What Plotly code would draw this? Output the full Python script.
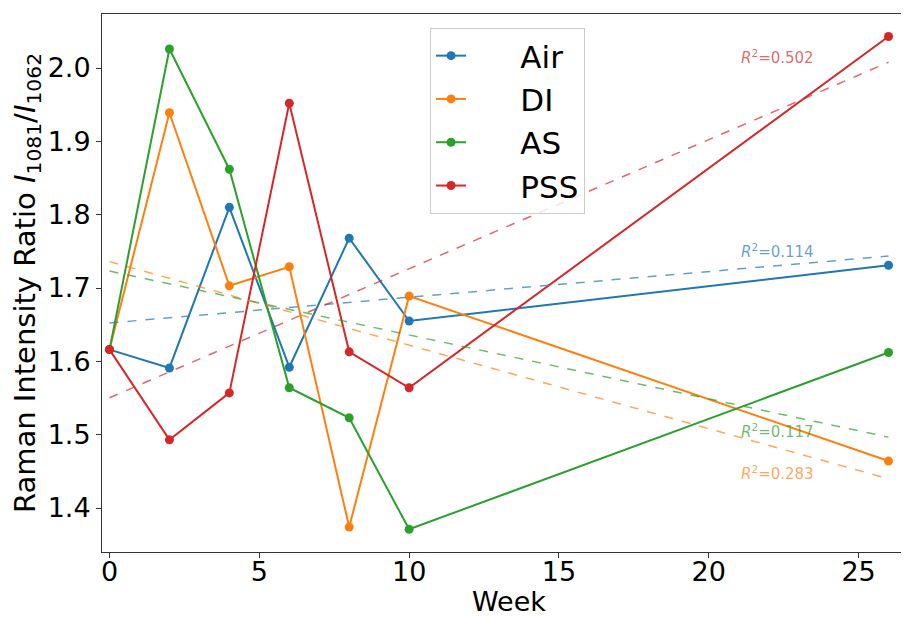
import numpy as np
import plotly.graph_objects as go

weeks = [0, 2, 4, 6, 8, 10, 26]
air = [1.616, 1.591, 1.810, 1.592, 1.768, 1.655, 1.731]
di = [1.616, 1.939, 1.703, 1.729, 1.374, 1.689, 1.464]
as_ = [1.616, 2.026, 1.862, 1.564, 1.523, 1.371, 1.612]
pss = [1.616, 1.493, 1.557, 1.952, 1.613, 1.564, 2.043]
names = ["Air", "DI", "AS", "PSS"]
r2_values = [0.114, 0.283, 0.117, 0.502]
label_y = [1.750, 1.4475, 1.505, 2.015]
label_x = 21
colors = ["#1f77b4", "#ff7f0e", "#2ca02c", "#d62728"]
fit_colors = ["rgba(31,119,180,0.7)", "rgba(255,127,14,0.7)", "rgba(44,160,44,0.7)", "rgba(214,39,40,0.7)"]

series = [air, di, as_, pss]
FONT = "DejaVu Sans"
NB = "\u00a0" * 5

fig = go.Figure()
for name, ys, c in zip(names, series, colors):
    fig.add_trace(go.Scatter(x=weeks, y=ys, mode="lines+markers", name=NB + name,
                             legendgroup=name,
                             line=dict(color=c, width=2), marker=dict(color=c, size=9)))

x = np.array(weeks, dtype=float)
for name, ys, fc, r2, ly in zip(names, series, fit_colors, r2_values, label_y):
    m, b = np.polyfit(x, np.array(ys), 1)
    xf = np.array([x.min(), x.max()])
    fig.add_trace(go.Scatter(x=xf, y=m * xf + b, mode="lines", showlegend=False,
                             line=dict(color=fc, width=1.5, dash="dash"), hoverinfo="skip"))
    fig.add_annotation(x=label_x, y=ly, text=f"<i>R</i><sup>2</sup>=%.3f" % r2,
                       showarrow=False, xanchor="left", yanchor="middle",
                       font=dict(family=FONT, size=15, color=fc))

fig.add_annotation(x=0.505, y=-0.092, xref="paper", yref="paper", text="Week",
                   showarrow=False, xanchor="center", yanchor="middle",
                   font=dict(family=FONT, size=27, color="black"))

fig.update_layout(
    width=901, height=609,
    margin=dict(l=94, r=1, t=6, b=65, autoexpand=False),
    paper_bgcolor="white", plot_bgcolor="white",
    font=dict(family=FONT, color="black"),
    legend=dict(x=0.407, y=0.974, xanchor="left", yanchor="top",
                font=dict(family=FONT, size=31),
                bordercolor="#cccccc", borderwidth=1, bgcolor="rgba(255,255,255,0.8)",
                tracegroupgap=0),
    xaxis=dict(range=[-0.25, 26.65], tickvals=[0, 5, 10, 15, 20, 25],
               showgrid=False, zeroline=False, showline=True, linecolor="#333333",
               mirror=True, ticks="outside", ticklen=5, tickcolor="#333333",
               tickfont=dict(size=27, family=FONT), ticklabelstandoff=-9),
    yaxis=dict(range=[1.34, 2.0737], tickvals=[1.4, 1.5, 1.6, 1.7, 1.8, 1.9, 2.0],
               tickformat=".1f",
               showgrid=False, zeroline=False, showline=True, linecolor="#333333",
               mirror=True, ticks="outside", ticklen=5, tickcolor="#333333",
               tickfont=dict(size=27, family=FONT),
               title=dict(text="Raman Intensity Ratio <i>I</i><sub>1081</sub>/<i>I</i><sub>1062</sub>",
                          font=dict(size=29, family=FONT), standoff=8)),
)

fig.write_html("out.html")
